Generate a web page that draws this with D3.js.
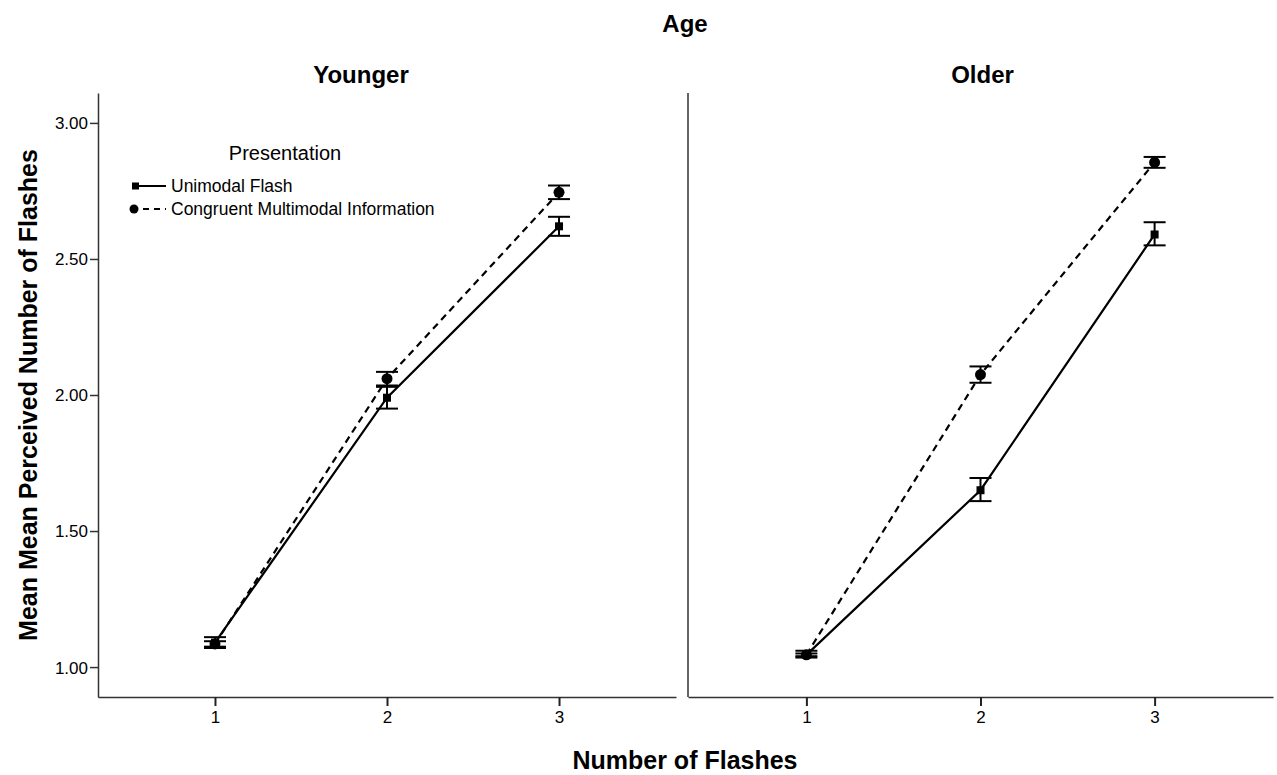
<!DOCTYPE html>
<html>
<head>
<meta charset="utf-8">
<script src="https://cdn.jsdelivr.net/npm/d3@7"></script>
<style>
  body { margin: 0; background: #fff; }
  text { font-family: "Liberation Sans", Arial, sans-serif; fill: #000; }
</style>
</head>
<body>
<script>
var WIDTH = 1277;
var HEIGHT = 775;

// data
var panels = ['Younger', 'Older'];
var flashes = [1, 2, 3];
var yTicks = [1.00, 1.50, 2.00, 2.50, 3.00];
var seriesNames = ['Unimodal Flash', 'Congruent Multimodal Information'];

var youngUniMean = [1.09, 1.99, 2.62];
var youngUniLo   = [1.07, 1.95, 2.585];
var youngUniHi   = [1.11, 2.03, 2.655];
var youngConMean = [1.085, 2.06, 2.745];
var youngConLo   = [1.075, 2.035, 2.72];
var youngConHi   = [1.095, 2.085, 2.77];

var oldUniMean = [1.045, 1.65, 2.59];
var oldUniLo   = [1.035, 1.61, 2.55];
var oldUniHi   = [1.06, 1.695, 2.635];
var oldConMean = [1.045, 2.075, 2.855];
var oldConLo   = [1.04, 2.045, 2.835];
var oldConHi   = [1.05, 2.105, 2.875];

var panelData = [
  [ { mean: youngUniMean, lo: youngUniLo, hi: youngUniHi, dash: null, mark: 'square' },
    { mean: youngConMean, lo: youngConLo, hi: youngConHi, dash: '7,5', mark: 'circle' } ],
  [ { mean: oldUniMean, lo: oldUniLo, hi: oldUniHi, dash: null, mark: 'square' },
    { mean: oldConMean, lo: oldConLo, hi: oldConHi, dash: '7,5', mark: 'circle' } ]
];

var svg = d3.select('body')
            .append('svg')
            .attr('width', WIDTH)
            .attr('height', HEIGHT);

var y = d3.scaleLinear()
          .domain([0.89, 3.11])
          .range([697, 93]);

var panelRanges = [[98, 676], [688, 1273]];
var titleShift = [-26, 2];

// titles
svg.append('text')
   .attr('x', 685).attr('y', 32)
   .attr('text-anchor', 'middle')
   .style('font-size', '24px').style('font-weight', 'bold')
   .text('Age');

svg.append('text')
   .attr('x', 685).attr('y', 769)
   .attr('text-anchor', 'middle')
   .style('font-size', '25px').style('font-weight', 'bold')
   .text('Number of Flashes');

svg.append('text')
   .attr('transform', 'translate(37,395) rotate(-90)')
   .attr('text-anchor', 'middle')
   .style('font-size', '25px').style('font-weight', 'bold')
   .text('Mean Mean Perceived Number of Flashes');

// y axis on the left panel only
var yAxis = svg.append('g')
   .attr('transform', 'translate(98,0)')
   .call(d3.axisLeft(y).tickValues(yTicks).tickFormat(d3.format('.2f')).tickSize(8).tickSizeOuter(0))
   .attr('font-size', 17)
   .attr('font-family', 'Liberation Sans, Arial, sans-serif');
yAxis.selectAll('.tick text').attr('font-size', 17).attr('x', -10).attr('dy', '0.35em');
yAxis.select('.domain').attr('stroke', '#333').attr('stroke-width', 1.5);
yAxis.selectAll('.tick line').attr('stroke', '#333').attr('stroke-width', 1.5);

var line = d3.line();

panels.forEach(function(name, p) {
  var r = panelRanges[p];
  var x = d3.scaleLinear()
            .domain([0.32, 3.68])
            .range(r);
  var g = svg.append('g');

  g.append('text')
   .attr('x', x(2) + titleShift[p]).attr('y', 83)
   .attr('text-anchor', 'middle')
   .style('font-size', '24px').style('font-weight', 'bold')
   .text(name);

  // frame line for the right panel
  if (p === 1) {
    g.append('line')
     .attr('x1', r[0]).attr('x2', r[0])
     .attr('y1', 93).attr('y2', 697)
     .attr('stroke', '#333').attr('stroke-width', 1.5);
  }

  var xAxis = g.append('g')
     .attr('transform', 'translate(0,697)')
     .call(d3.axisBottom(x).tickValues(flashes).tickFormat(d3.format('d')).tickSize(9).tickSizeOuter(0))
     .attr('font-size', 17)
     .attr('font-family', 'Liberation Sans, Arial, sans-serif');
  xAxis.selectAll('.tick text').attr('font-size', 17).attr('y', 14).attr('dy', '0.71em');
  xAxis.select('.domain').attr('stroke', '#333').attr('stroke-width', 1.5);
  xAxis.selectAll('.tick line').attr('stroke', '#222').attr('stroke-width', 2);

  panelData[p].forEach(function(s) {
    var pts = flashes.map(function(f, i) { return [x(f), y(s.mean[i])]; });
    g.append('path')
     .attr('d', line(pts))
     .attr('fill', 'none')
     .attr('stroke', '#000')
     .attr('stroke-width', 2.2)
     .attr('stroke-dasharray', s.dash);

    flashes.forEach(function(f, i) {
      var cx = x(f);
      g.append('line')
       .attr('x1', cx).attr('x2', cx)
       .attr('y1', y(s.lo[i])).attr('y2', y(s.hi[i]))
       .attr('stroke', '#000').attr('stroke-width', 2);
      [s.lo[i], s.hi[i]].forEach(function(v) {
        g.append('line')
         .attr('x1', cx - 11).attr('x2', cx + 11)
         .attr('y1', y(v)).attr('y2', y(v))
         .attr('stroke', '#000').attr('stroke-width', 2);
      });
      if (s.mark === 'square') {
        g.append('rect')
         .attr('x', cx - 4).attr('y', y(s.mean[i]) - 4)
         .attr('width', 8).attr('height', 8)
         .attr('fill', '#000');
      } else {
        g.append('circle')
         .attr('cx', cx).attr('cy', y(s.mean[i]))
         .attr('r', 5.5).attr('fill', '#000');
      }
    });
  });
});

// legend
var leg = svg.append('g');
leg.append('text')
   .attr('x', 285).attr('y', 160)
   .attr('text-anchor', 'middle')
   .style('font-size', '20px')
   .text('Presentation');

seriesNames.forEach(function(n, i) {
  var ly = 186 + i * 23;
  leg.append('line')
     .attr('x1', 135).attr('x2', 166)
     .attr('y1', ly).attr('y2', ly)
     .attr('stroke', '#000').attr('stroke-width', 2)
     .attr('stroke-dasharray', i === 0 ? null : '6,5')
     .attr('stroke-dashoffset', i === 0 ? 0 : -8);
  if (i === 0) {
    leg.append('rect').attr('x', 132).attr('y', ly - 3.5).attr('width', 7).attr('height', 7).attr('fill', '#000');
  } else {
    leg.append('circle').attr('cx', 134).attr('cy', ly).attr('r', 4.5).attr('fill', '#000');
  }
  leg.append('text')
     .attr('x', 171).attr('y', ly + 6)
     .style('font-size', '17.5px')
     .text(n);
});
</script>
</body>
</html>
